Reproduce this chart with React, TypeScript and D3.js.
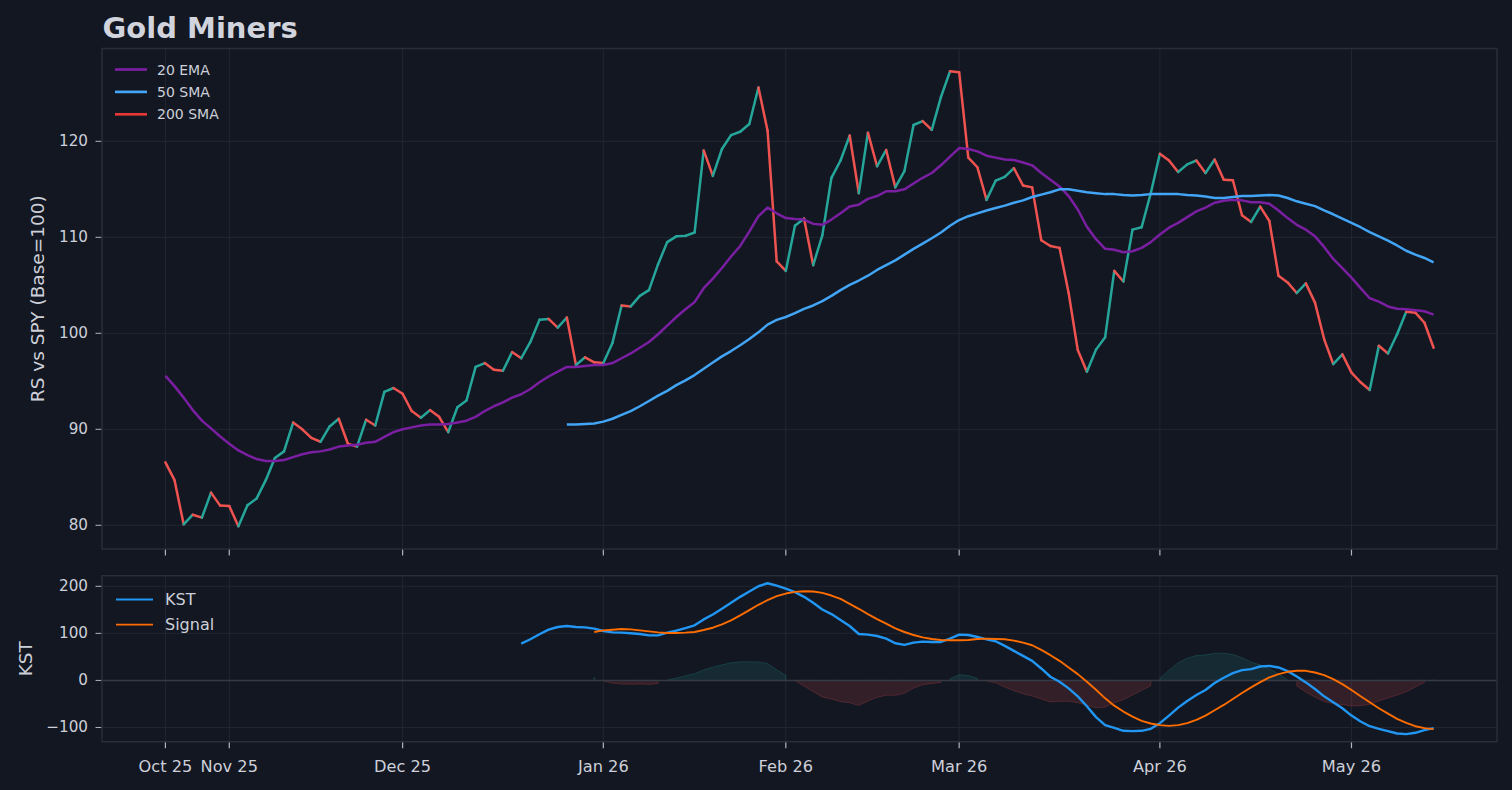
import { useEffect, useRef } from "react";
import * as d3 from "d3";

// ── Data (one value per trading day, index 0 = late Oct 2025) ──────────────
const PRICE = [
  86.55, 84.7, 80.1, 81.1, 80.8, 83.4, 82.05, 82.0, 79.9, 82.1,
  82.8, 84.7, 87.0, 87.7, 90.7, 90.0, 89.1, 88.7, 90.3, 91.1,
  88.5, 88.2, 91.0, 90.4, 93.9, 94.3, 93.7, 91.9, 91.2, 92.0,
  91.3, 89.7, 92.3, 93.0, 96.5, 96.9, 96.2, 96.1, 98.05, 97.4,
  99.1, 101.4, 101.5, 100.6, 101.65, 96.7, 97.5, 96.98, 96.9, 99.0,
  102.9, 102.8, 103.9, 104.5, 107.2, 109.5, 110.1, 110.15, 110.5, 119.05,
  116.4, 119.2, 120.65, 121.0, 121.8, 125.6, 121.1, 107.5, 106.5, 111.2,
  111.95, 107.1, 110.2, 116.2, 118.0, 120.6, 114.6, 120.9, 117.4, 119.1,
  115.2, 116.9, 121.7, 122.1, 121.2, 124.6, 127.3, 127.2, 118.3, 117.3,
  113.9, 115.9, 116.3, 117.2, 115.4, 115.2, 109.7, 109.1, 108.9, 104.2,
  98.25, 96.0, 98.3, 99.6, 106.5, 105.4, 110.8, 111.05, 114.6, 118.7,
  118.0, 116.8, 117.6, 118.0, 116.7, 118.1, 116.0, 115.95, 112.3, 111.6,
  113.2, 111.7, 106.0, 105.3, 104.2, 105.2, 103.2, 99.4, 96.8, 97.8,
  95.9, 94.9, 94.1, 98.7, 97.9, 99.9, 102.25, 102.15, 101.1, 98.5,
];

const EMA20 = [
  95.56, 94.5, 93.3, 92.0, 90.9, 90.1, 89.25, 88.5, 87.8, 87.3,
  86.9, 86.7, 86.7, 86.8, 87.1, 87.4, 87.6, 87.7, 87.9, 88.2,
  88.3, 88.4, 88.6, 88.7, 89.2, 89.7, 90.0, 90.2, 90.4, 90.5,
  90.5, 90.55, 90.7, 90.9, 91.3, 91.9, 92.4, 92.8, 93.3, 93.65,
  94.2, 94.9, 95.5, 96.0, 96.5, 96.5, 96.6, 96.7, 96.7, 96.9,
  97.4, 97.9, 98.5, 99.1, 99.9, 100.8, 101.7, 102.5, 103.25, 104.7,
  105.7, 106.8, 108.0, 109.1, 110.6, 112.2, 113.1, 112.5, 112.0, 111.9,
  111.85, 111.4, 111.3, 111.85, 112.5, 113.2, 113.4, 114.0, 114.3, 114.8,
  114.8, 115.0, 115.6, 116.2, 116.7, 117.5, 118.4, 119.3, 119.2, 118.95,
  118.5, 118.3, 118.1, 118.05, 117.8, 117.5, 116.7, 116.0, 115.3, 114.3,
  112.9, 111.1, 109.8, 108.8, 108.7, 108.45, 108.55, 108.9, 109.5, 110.3,
  111.0, 111.5, 112.1, 112.7, 113.1, 113.6, 113.8, 113.9, 113.85, 113.65,
  113.65, 113.5, 112.8, 112.0, 111.3, 110.8, 110.1, 109.0, 107.75, 106.8,
  105.8, 104.7, 103.65, 103.3, 102.8, 102.55, 102.5, 102.4, 102.3, 101.95,
];

const SMA50_START = 44;
const SMA50 = [
  90.5, 90.5, 90.55, 90.6, 90.8, 91.1,
  91.5, 91.9, 92.4, 92.95, 93.5, 94.0, 94.6, 95.1, 95.65, 96.3,
  96.95, 97.6, 98.15, 98.75, 99.4, 100.1, 100.9, 101.4, 101.7, 102.1,
  102.55, 102.9, 103.35, 103.9, 104.5, 105.05, 105.5, 106.0, 106.6, 107.1,
  107.6, 108.2, 108.8, 109.35, 109.9, 110.5, 111.2, 111.8, 112.2, 112.5,
  112.8, 113.05, 113.3, 113.6, 113.85, 114.2, 114.45, 114.7, 115.0, 115.0,
  114.85, 114.7, 114.6, 114.5, 114.5, 114.4, 114.35, 114.4, 114.5, 114.5,
  114.5, 114.5, 114.4, 114.35, 114.25, 114.1, 114.1, 114.2, 114.3, 114.3,
  114.35, 114.4, 114.35, 114.1, 113.75, 113.5, 113.25, 112.8, 112.4, 111.95,
  111.5, 111.05, 110.55, 110.1, 109.65, 109.15, 108.6, 108.2, 107.85, 107.4,
];

const KST_START = 39;
const KST = [
  78.2,
  87.4, 98, 107.8, 113.5, 115.6, 113.5, 112.8, 110, 105, 102.2,
  101.5, 100.1, 98.7, 95.8, 95.8, 101.5, 105.7, 111.3, 117, 129.7,
  140.2, 152.2, 164.9, 177.6, 188.9, 200.1, 206.5, 201.6, 195.2, 187.5,
  177.6, 164.9, 150.8, 141, 128.3, 115.6, 98.7, 97.3, 94.4, 88.8,
  78.9, 75.4, 80.3, 82.5, 81.7, 81.7, 88.8, 97.3, 96.5, 92.3,
  87.4, 83.2, 73.3, 62.7, 52.1, 41.6, 25.4, 7.8, -2.8, -16.9,
  -33.8, -55, -78, -95, -101, -107.1, -107.8, -107.1, -102.9, -90.9,
  -74.7, -57.8, -43.7, -31, -20.4, -5.6, 5.6, 15.5, 21.8, 24,
  29.6, 31, 27.5, 19.7, 8.5, -4.2, -18.3, -33.8, -46.5, -59.2,
  -74.7, -87.4, -97.3, -102.9, -107.8, -112.8, -114.2, -111.3, -105.7, -101.5,
];

const SIGNAL_START = 47;
const SIGNAL = [
  102.9, 106.4, 107.8,
  109.2, 108.5, 106.4, 104.3, 102.2, 100.8, 100.8, 101.5, 102.9, 107.1,
  112, 119.1, 127.6, 138.1, 149.4, 160.7, 170.5, 179, 184.6, 188.2,
  189.6, 188.9, 186, 180.4, 173.4, 162.8, 152.2, 141, 130.4, 120.5,
  110.6, 102.9, 96.5, 91.6, 88.1, 86, 85.3, 85.3, 86, 88,
  88.8, 88.1, 87.4, 84.6, 80.3, 74.7, 64.8, 53.6, 41.6, 27.5,
  13.4, -2.8, -19.7, -38.1, -53.6, -66.2, -76.8, -86, -91.6, -95.1,
  -96.5, -95.1, -90.9, -83.9, -74.7, -63.4, -52.1, -39.5, -26.8, -14.8,
  -3.5, 6.3, 13.4, 18.3, 20.4, 20.4, 16.9, 11.3, 2.8, -7.8,
  -20.4, -33.8, -46.5, -59.2, -70.5, -81.7, -90.2, -97.3, -101.5, -103.6,
];

// First trading day of each month (index) and its label
const X_TICKS = [0, 7, 26, 48, 68, 87, 109, 130];
const X_LABELS = ["Oct 25", "Nov 25", "Dec 25", "Jan 26", "Feb 26", "Mar 26", "Apr 26", "May 26"];
const TOP_TICKS = [80, 90, 100, 110, 120];
const BOT_TICKS = [-100, 0, 100, 200];

// ── Look ────────────────────────────────────────────────────────────────────
const BG = "#131722";
const GRID = "#222632";
const SPINE = "#2a2e39";
const TEXT = "#cdd0d9";
const FONT = "DejaVu Sans, sans-serif";
const UP = "#26a69a";
const DOWN = "#ef5350";
const EMA_C = "#7b1fa2";
const SMA_C = "#42a5f5";
const KST_C = "#2196f3";
const SIG_C = "#ff6d00";

const W = 1512;
const H = 790;
const LEFT = 102;
const RIGHT = 1497;
const TOP = [48.5, 549];
const BOT = [575.7, 741.7];

type Pt = [number, number];

// matplotlib-style 5% margin
function padded(lo: number, hi: number): [number, number] {
  const m = (hi - lo) * 0.05;
  return [lo - m, hi + m];
}

const withIndex = (vals: number[], start: number): Pt[] => vals.map((v, i) => [start + i, v]);

export default function App() {
  const svgRef = useRef<SVGSVGElement>(null);

  useEffect(() => {
    document.body.style.margin = "0";
    document.body.style.background = BG;
    const svg = d3.select(svgRef.current);
    svg.selectAll("*").remove();

    const x = d3.scaleLinear().domain(padded(0, PRICE.length - 1)).range([LEFT, RIGHT]);

    const topVals = [...PRICE, ...EMA20, ...SMA50];
    const yTop = d3.scaleLinear()
      .domain(padded(d3.min(topVals)!, d3.max(topVals)!))
      .range([TOP[1], TOP[0]]);
    const botVals = [...KST, ...SIGNAL];
    const yBot = d3.scaleLinear()
      .domain(padded(d3.min(botVals)!, d3.max(botVals)!))
      .range([BOT[1], BOT[0]]);

    svg.append("rect").attr("width", W).attr("height", H).attr("fill", BG);

    // ── Panel frame: grid, spines, ticks ─────────────────────────────────────
    const frame = (
      y: d3.ScaleLinear<number, number>,
      band: number[],
      yTicks: number[],
      withXLabels: boolean,
    ) => {
      const g = svg.append("g");
      g.selectAll(".vgrid").data(X_TICKS).join("line")
        .attr("x1", (d) => x(d)).attr("x2", (d) => x(d))
        .attr("y1", band[0]).attr("y2", band[1])
        .attr("stroke", GRID).attr("stroke-width", 1);
      g.selectAll(".hgrid").data(yTicks).join("line")
        .attr("x1", LEFT).attr("x2", RIGHT)
        .attr("y1", (d) => y(d)).attr("y2", (d) => y(d))
        .attr("stroke", GRID).attr("stroke-width", 1);

      // y ticks
      g.selectAll(".ytick").data(yTicks).join("line")
        .attr("x1", LEFT - 6.5).attr("x2", LEFT)
        .attr("y1", (d) => y(d)).attr("y2", (d) => y(d))
        .attr("stroke", "#b2b5be").attr("stroke-width", 1);
      g.selectAll(".ylab").data(yTicks).join("text")
        .attr("x", LEFT - 14).attr("y", (d) => y(d))
        .attr("text-anchor", "end").attr("dominant-baseline", "central")
        .attr("fill", TEXT).attr("font-family", FONT).attr("font-size", "15.2px")
        .text((d) => (d < 0 ? `\u2212${Math.abs(d)}` : `${d}`));

      // x ticks
      g.selectAll(".xtick").data(X_TICKS).join("line")
        .attr("x1", (d) => x(d)).attr("x2", (d) => x(d))
        .attr("y1", band[1]).attr("y2", band[1] + 6.5)
        .attr("stroke", "#b2b5be").attr("stroke-width", 1.2);
      if (withXLabels) {
        g.selectAll(".xlab").data(X_TICKS).join("text")
          .attr("x", (d) => x(d)).attr("y", band[1] + 30)
          .attr("text-anchor", "middle")
          .attr("fill", TEXT).attr("font-family", FONT).attr("font-size", "16.2px")
          .text((_, i) => X_LABELS[i]);
      }
      return g;
    };

    const spines = (band: number[]) =>
      svg.append("rect")
        .attr("x", LEFT).attr("y", band[0])
        .attr("width", RIGHT - LEFT).attr("height", band[1] - band[0])
        .attr("fill", "none").attr("stroke", SPINE).attr("stroke-width", 1.5);

    frame(yTop, TOP, TOP_TICKS, false);
    frame(yBot, BOT, BOT_TICKS, true);

    // ── Top panel lines ──────────────────────────────────────────────────────
    const lineTop = d3.line<Pt>().x((d) => x(d[0])).y((d) => yTop(d[1]));
    const top = svg.append("g");

    // price: each step coloured by direction
    const steps = d3.pairs(withIndex(PRICE, 0));
    top.selectAll(".seg").data(steps).join("path")
      .attr("d", (d) => lineTop(d))
      .attr("fill", "none")
      .attr("stroke", (d) => (d[1][1] >= d[0][1] ? UP : DOWN))
      .attr("stroke-width", 2.5)
      .attr("stroke-linecap", "round");

    top.append("path")
      .attr("d", lineTop(withIndex(EMA20, 0)))
      .attr("fill", "none").attr("stroke", EMA_C).attr("stroke-width", 2.5)
      .attr("stroke-linejoin", "round");
    top.append("path")
      .attr("d", lineTop(withIndex(SMA50, SMA50_START)))
      .attr("fill", "none").attr("stroke", SMA_C).attr("stroke-width", 2.5)
      .attr("stroke-linejoin", "round");

    // ── Bottom panel: histogram fill, zero line, KST/Signal ──────────────────
    const bot = svg.append("g");
    const kstPts = withIndex(KST, KST_START);
    const sigPts = withIndex(SIGNAL, SIGNAL_START);
    const diff: Pt[] = sigPts.map(([i, s]) => [i, KST[i - KST_START] - s]);

    // contiguous runs of same sign, vertical edges at the ends (fill_between where=)
    const runs: { pos: boolean; pts: Pt[] }[] = [];
    diff.forEach((p) => {
      if (p[1] === 0) return;
      const pos = p[1] > 0;
      const last = runs[runs.length - 1];
      if (last && last.pos === pos && last.pts[last.pts.length - 1][0] === p[0] - 1) last.pts.push(p);
      else runs.push({ pos, pts: [p] });
    });
    const area = d3.area<Pt>().x((d) => x(d[0])).y0(yBot(0)).y1((d) => yBot(d[1]));
    bot.selectAll(".hist").data(runs).join("path")
      .attr("d", (r) => area(r.pts))
      .attr("fill", (r) => (r.pos ? UP : DOWN))
      .attr("fill-opacity", 0.14)
      .attr("stroke", (r) => (r.pos ? UP : DOWN))
      .attr("stroke-opacity", 0.22)
      .attr("stroke-width", 1);

    bot.append("line")
      .attr("x1", LEFT).attr("x2", RIGHT)
      .attr("y1", yBot(0)).attr("y2", yBot(0))
      .attr("stroke", "#363a45").attr("stroke-width", 1.5);

    const lineBot = d3.line<Pt>().x((d) => x(d[0])).y((d) => yBot(d[1]));
    bot.append("path")
      .attr("d", lineBot(kstPts))
      .attr("fill", "none").attr("stroke", KST_C).attr("stroke-width", 2.4)
      .attr("stroke-linejoin", "round");
    bot.append("path")
      .attr("d", lineBot(sigPts))
      .attr("fill", "none").attr("stroke", SIG_C).attr("stroke-width", 1.9)
      .attr("stroke-linejoin", "round");

    spines(TOP);
    spines(BOT);

    // ── Legends ──────────────────────────────────────────────────────────────
    const legend = (
      items: { label: string; color: string; width: number }[],
      x0: number, x1: number, tx: number, y0: number, dy: number, size: string,
    ) => {
      const g = svg.append("g");
      items.forEach((it, i) => {
        const yy = y0 + i * dy;
        g.append("line")
          .attr("x1", x0).attr("x2", x1).attr("y1", yy).attr("y2", yy)
          .attr("stroke", it.color).attr("stroke-width", it.width);
        g.append("text")
          .attr("x", tx).attr("y", yy)
          .attr("dominant-baseline", "central")
          .attr("fill", TEXT).attr("font-family", FONT).attr("font-size", size)
          .text(it.label);
      });
    };
    legend(
      [
        { label: "20 EMA", color: EMA_C, width: 2.7 },
        { label: "50 SMA", color: SMA_C, width: 2.7 },
        { label: "200 SMA", color: "#e53935", width: 2.7 },
      ],
      115, 147, 157, 69.5, 22.4, "14px",
    );
    legend(
      [
        { label: "KST", color: KST_C, width: 2.2 },
        { label: "Signal", color: SIG_C, width: 1.8 },
      ],
      116, 153, 165, 599.5, 25.2, "16px",
    );

    // ── Titles ───────────────────────────────────────────────────────────────
    svg.append("text")
      .attr("x", 102.5).attr("y", 37.5)
      .attr("fill", "#d1d4dc").attr("font-family", FONT)
      .attr("font-size", "29px").attr("font-weight", "700")
      .text("Gold Miners");

    const yLabel = (label: string, cx: number, cy: number) =>
      svg.append("text")
        .attr("transform", `translate(${cx},${cy}) rotate(-90)`)
        .attr("text-anchor", "middle").attr("dominant-baseline", "central")
        .attr("fill", TEXT).attr("font-family", FONT).attr("font-size", "18.5px")
        .text(label);
    yLabel("RS vs SPY (Base=100)", 37, (TOP[0] + TOP[1]) / 2);
    yLabel("KST", 25, (BOT[0] + BOT[1]) / 2);
  }, []);

  return <svg ref={svgRef} width={W} height={H} style={{ display: "block" }} />;
}
